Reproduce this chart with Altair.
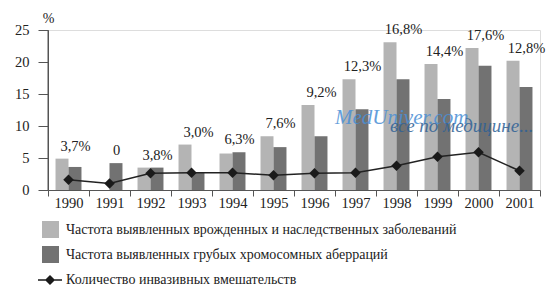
import altair as alt
import pandas as pd

years = ["1990", "1991", "1992", "1993", "1994", "1995", "1996", "1997", "1998", "1999", "2000", "2001"]
congenital = [4.9, 0.0, 3.5, 7.1, 5.7, 8.4, 13.3, 17.3, 23.1, 19.7, 22.2, 20.2]
chromosomal = [3.6, 4.2, 3.5, 2.8, 5.9, 6.7, 8.4, 12.6, 17.3, 14.2, 19.4, 16.1]
invasive = [1.6, 1.0, 2.6, 2.7, 2.7, 2.3, 2.6, 2.7, 3.8, 5.2, 5.9, 3.0]
top_labels = ["3,7%", "0", "3,8%", "3,0%", "6,3%", "7,6%", "9,2%", "12,3%", "16,8%", "14,4%", "17,6%", "12,8%"]

s1 = "Частота выявленных врожденных и наследственных заболеваний"
s2 = "Частота выявленных грубых хромосомных аберраций"
s3 = "Количество инвазивных вмешательств"

FONT = "Liberation Serif"

bars = pd.DataFrame({
    "year": years * 2,
    "series": [s1] * len(years) + [s2] * len(years),
    "value": congenital + chromosomal,
})
line = pd.DataFrame({"year": years, "value": invasive, "series": [s3] * len(years)})
tops = pd.DataFrame({
    "year": years,
    "value": [max(a, b) for a, b in zip(congenital, chromosomal)],
    "label": top_labels,
})

x_axis = alt.Axis(
    tickBand="extent", labelAngle=0, labelFont=FONT, labelFontSize=14.5,
    labelColor="#222", domainColor="#555", tickColor="#555", tickSize=6,
    labelPadding=0, grid=False,
)
x_enc = alt.X("year:N", title=None, sort=years,
              scale=alt.Scale(paddingInner=0, paddingOuter=0), axis=x_axis)
y_axis = alt.Axis(
    values=[0, 5, 10, 15, 20, 25], labelOverlap=False, title="%", titleAngle=0,
    titleX=0, titleY=-12, titleAlign="center", titleBaseline="middle",
    titleFont=FONT, titleFontSize=14, titleFontWeight="normal", titleColor="#222",
    labelFont=FONT, labelFontSize=14.5, labelColor="#222", domain=True,
    domainColor="#555", domainWidth=1, tickColor="#555", tickSize=10,
    labelPadding=9, grid=False,
)
y_enc = alt.Y("value:Q", title="%", scale=alt.Scale(domain=[0, 25]), axis=y_axis)

bar_layer = alt.Chart(bars).mark_bar().encode(
    x=x_enc,
    xOffset=alt.XOffset("series:N", sort=[s1, s2],
                        scale=alt.Scale(paddingInner=0, paddingOuter=0.58)),
    y=y_enc,
    color=alt.Color(
        "series:N",
        scale=alt.Scale(domain=[s1, s2], range=["#b4b4b4", "#727272"]),
        legend=alt.Legend(
            title=None, orient="none", legendX=-6, legendY=191, direction="vertical",
            symbolType="square", symbolSize=289, symbolStrokeWidth=0,
            labelFont=FONT, labelFontSize=14, labelColor="#222", labelOffset=7,
            rowPadding=8, labelLimit=500,
        ),
    ),
)

line_layer = alt.Chart(line).mark_line(color="#222", strokeWidth=1.5).encode(
    x=x_enc, y=y_enc,
)
point_layer = alt.Chart(line).mark_point(
    shape="diamond", filled=True, size=110, color="#1a1a1a"
).encode(
    x=x_enc,
    y=y_enc,
    opacity=alt.Opacity(
        "series:N",
        scale=alt.Scale(domain=[s3], range=[1]),
        legend=alt.Legend(
            title=None, orient="none", legendX=-10, legendY=238,
            symbolType="M-1,-0.06H1V0.06H-1Z M-0.42,0L0,-0.42L0.42,0L0,0.42Z",
            symbolSize=576, symbolFillColor="#1a1a1a", symbolStrokeWidth=0,
            labelFont=FONT, labelFontSize=14, labelColor="#222", labelOffset=4,
            labelLimit=500,
        ),
    ),
)

text_layer = alt.Chart(tops).mark_text(
    font=FONT, fontSize=14.5, color="#222", baseline="alphabetic", dx=7, dy=-8
).encode(x=x_enc, y=y_enc, text="label:N")

y_line = alt.Chart(pd.DataFrame({"a": [0]})).mark_rule(color="#555", strokeWidth=1).encode(
    x=alt.value(0), y=alt.value(0), y2=alt.value(160)
)

wm1 = alt.Chart(pd.DataFrame({"t": ["MedUniver.com"]})).mark_text(
    font=FONT, fontSize=21, fontStyle="italic", color="#4a8fd6", opacity=0.85,
    align="left", baseline="alphabetic",
).encode(text="t:N", x=alt.value(287), y=alt.value(94))
wm2 = alt.Chart(pd.DataFrame({"t": ["все по медицине..."]})).mark_text(
    font=FONT, fontSize=19, fontStyle="italic", color="#2f6196", opacity=0.85,
    align="left", baseline="alphabetic",
).encode(text="t:N", x=alt.value(342), y=alt.value(102))

chart = alt.layer(bar_layer, line_layer, point_layer, text_layer, y_line, wm1, wm2).resolve_legend(
    color="independent", opacity="independent"
).properties(
    width=492, height=160,
    autosize=alt.AutoSizeParams(type="none"),
    padding={"left": 48, "top": 30, "right": 10, "bottom": 98},
).configure_view(stroke=None).configure(background="white")

chart.save("out.html", embed_options={"renderer": "svg", "actions": False})
